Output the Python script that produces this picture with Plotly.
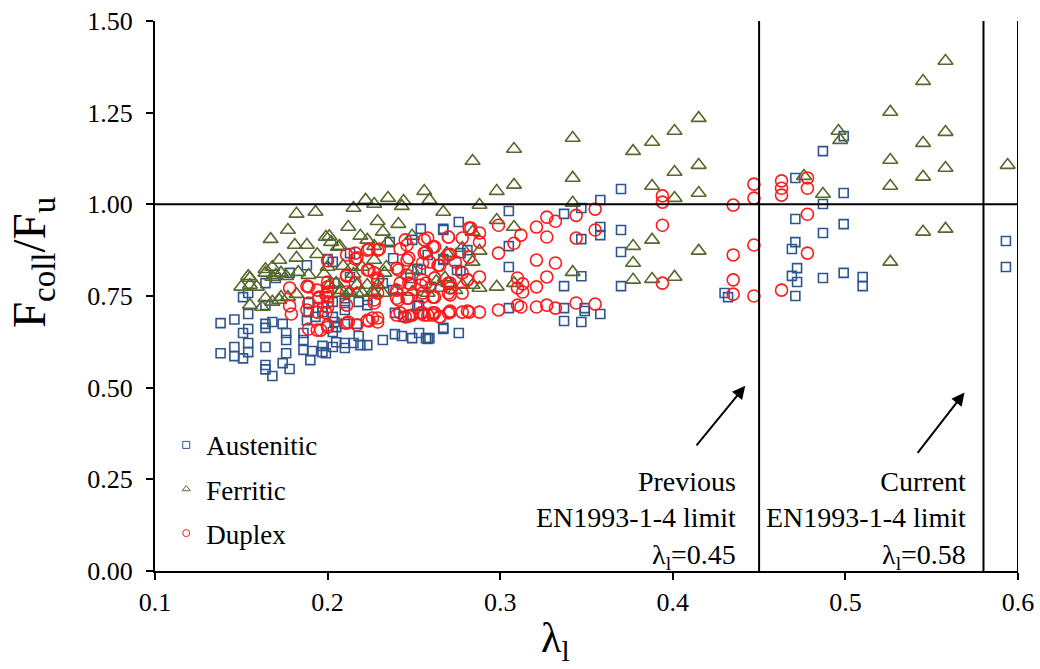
import plotly.graph_objects as go

# ---------------- data ----------------
aus_x = [0.138,0.138,0.146,0.146,0.146,0.151,0.151,0.154,0.154,0.154,0.154,0.151,0.154,0.164,0.164,0.168,0.164,0.164,0.164,0.168,
         0.164,0.164,0.174,0.178,0.176,0.176,0.176,0.174,0.186,0.190,0.186,0.191,0.186,0.189,0.189,0.197,0.199,0.197,0.203,0.205,
         0.210,0.215,0.219,0.223,0.218,0.210,0.205,0.217,0.232,0.239,0.243,0.249,0.253,0.257,0.267,0.239,0.244,0.253,0.253,0.248,
         0.223,0.218,0.210,0.203,0.197,0.193,0.188,0.203,0.197,0.210,0.204,0.203,0.210,0.258,0.276,0.259,
         0.254,0.267,0.236,0.267,0.252,0.252,0.223,0.213,0.200,0.188,0.178,0.170,0.232,0.238,0.213,0.238,0.248,0.260,0.249,0.254,
         0.258,0.203,0.276,0.267,0.277,0.277,0.267,0.281,0.275,0.204,0.210,0.267,
         0.305,0.305,0.305,0.305,0.337,0.347,0.358,0.358,0.358,0.347,0.347,0.337,0.337,0.337,0.347,0.349,0.349,0.358,0.370,0.370,
         0.370,0.370,
         0.499,0.487,0.471,0.499,0.487,0.471,0.499,0.487,0.471,0.469,0.472,0.469,0.472,0.471,0.487,0.499,0.510,0.510,0.430,0.432,
         0.593,0.593]
aus_y = [0.594,0.676,0.686,0.611,0.586,0.580,0.649,0.660,0.622,0.597,0.701,0.747,0.758,0.550,0.562,0.532,0.611,0.663,0.674,0.679,
         0.725,0.785,0.567,0.551,0.594,0.630,0.649,0.674,0.603,0.575,0.630,0.600,0.649,0.706,0.731,0.597,0.594,0.614,0.611,0.624,
         0.622,0.622,0.616,0.616,0.641,0.674,0.665,0.674,0.630,0.646,0.641,0.635,0.649,0.635,0.663,0.704,0.693,0.723,0.701,0.698,
         0.725,0.734,0.731,0.734,0.720,0.693,0.684,0.693,0.706,0.712,0.679,0.652,0.608,0.633,0.649,0.635,
         0.933,0.933,0.897,0.851,0.824,0.725,0.739,0.802,0.851,0.834,0.813,0.799,0.785,0.766,0.867,0.853,0.799,0.775,0.903,0.821,
         0.862,0.843,0.952,0.930,0.867,0.818,0.848,0.875,0.821,0.785,0.744,0.660,
         0.982,0.886,0.829,0.717,0.974,0.990,1.012,0.938,0.916,0.905,0.804,0.777,0.717,0.682,0.679,0.717,0.709,0.701,1.042,0.930,
         0.870,0.777,
         1.186,1.145,1.072,1.031,1.001,0.960,0.946,0.922,0.897,0.878,0.826,0.805,0.788,0.750,0.799,0.813,0.802,0.777,0.758,0.747,
         0.900,0.829]

fer_x = [0.558,0.545,0.526,0.558,0.545,0.526,0.558,0.545,0.526,0.594,0.545,0.558,0.526,0.496,0.497,0.487,0.476,0.388,0.401,0.415,
         0.388,0.401,0.415,0.401,0.415,0.388,0.415,0.388,0.401,
         0.342,0.308,0.284,0.342,0.308,0.298,0.288,0.267,0.342,0.377,0.377,0.377,0.377,0.298,0.308,0.342,0.288,0.284,0.298,0.308,
         0.288,0.278,0.284,0.284,0.278,0.269,
         0.256,0.259,0.235,0.222,0.227,0.244,0.243,0.215,0.229,0.212,0.241,0.232,0.219,0.223,0.207,0.227,0.249,0.235,0.202,0.182,
         0.193,0.177,0.167,0.181,0.188,0.199,0.201,0.172,0.182,0.194,0.168,0.164,0.154,0.206,
         0.150,0.155,0.155,0.159,0.164,0.168,0.173,0.183,0.155,0.162,0.168,0.173,0.182,0.207,0.212,0.217,0.220,0.227,0.232,0.201,
         0.205,0.217,0.223,0.229,0.200,0.209,0.214,0.220,0.227,0.234,0.249,0.170,0.176,0.189,0.198,0.215,0.164,0.172,0.177,0.208,
         0.213,0.226,0.233,0.240,0.249,0.258,0.265,0.274,0.263,0.270,0.268]
fer_y = [1.391,1.336,1.252,1.197,1.167,1.121,1.099,1.075,1.050,1.107,0.925,0.933,0.843,1.200,1.175,1.028,1.077,1.170,1.200,1.235,
         1.050,1.088,1.107,1.017,1.031,0.903,0.873,0.796,0.802,
         1.181,1.151,1.118,1.072,1.053,1.036,0.998,0.979,1.004,1.145,0.886,0.840,0.794,0.957,0.938,0.815,0.873,0.843,0.775,0.785,
         0.772,0.881,0.925,0.780,0.780,0.867,
         1.036,1.012,1.017,1.012,1.001,1.009,0.995,0.990,0.954,0.938,0.946,0.925,0.914,0.903,0.886,0.886,0.914,0.897,0.897,0.974,
         0.979,0.930,0.905,0.889,0.889,0.911,0.913,0.848,0.854,0.864,0.829,0.823,0.804,0.884,
         0.775,0.799,0.780,0.775,0.813,0.802,0.813,0.815,0.725,0.720,0.734,0.747,0.755,0.758,0.758,0.758,0.758,0.758,0.758,0.780,
         0.785,0.780,0.780,0.780,0.829,0.832,0.829,0.829,0.848,0.829,0.821,0.807,0.804,0.807,0.810,0.810,0.744,0.739,0.747,0.766,
         0.761,0.761,0.813,0.766,0.761,0.758,0.772,0.766,0.790,0.785,0.800]

dup_x = [0.394,0.394,0.394,0.394,0.435,0.447,0.447,0.447,0.435,0.435,0.435,0.447,0.463,0.463,0.463,0.478,0.478,0.478,0.478,0.463,
         0.355,0.344,0.332,0.327,0.321,0.355,0.344,0.327,0.312,0.308,0.299,0.299,0.321,0.332,0.327,0.310,0.310,0.321,0.310,0.312,
         0.321,0.327,0.332,0.344,0.355,0.299,0.288,0.282,0.278,0.271,0.265,0.261,0.288,0.288,0.282,0.278,0.270,0.271,0.262,0.282,
         0.264,0.278,0.288,0.281,0.271,0.262,0.262,0.271,0.278,0.313,0.313,
         0.178,0.178,0.179,0.189,0.189,0.189,0.195,0.194,0.196,0.200,0.200,0.200,0.200,0.200,0.200,0.200,0.200,0.211,0.211,0.211,
         0.211,0.211,0.216,0.216,0.216,0.217,0.224,0.224,0.229,0.227,0.229,0.227,0.224,0.229,0.229,0.242,0.245,0.241,0.246,0.246,
         0.240,0.240,0.246,0.248,0.240,0.245,0.247,0.256,0.257,0.255,0.261,0.255,0.254,0.255,0.262,0.265,0.255,0.256,0.261,0.265,
         0.270,0.270,0.274,0.246,0.258,0.256,0.247,0.230,0.223,0.217,0.211,0.223,0.240,0.283,0.259,0.229,0.242,0.247,0.257,0.270,
         0.271,0.281,0.229,0.227,0.241,0.247,0.255,0.261,0.270,0.212,0.223,0.226,0.242,0.249,0.254,0.258,0.262,0.270,0.271,0.281,
         0.188,0.188,0.194,0.195,0.194,0.199,0.199,0.200]
dup_y = [1.023,1.006,0.943,0.785,0.998,1.055,1.017,0.889,0.862,0.794,0.755,0.750,1.064,1.044,1.025,1.072,1.044,0.973,0.867,0.766,
         0.987,0.970,0.954,0.965,0.938,0.930,0.908,0.911,0.916,0.894,0.943,0.867,0.848,0.840,0.802,0.799,0.772,0.775,0.725,0.720,
         0.720,0.725,0.717,0.731,0.728,0.712,0.706,0.706,0.706,0.706,0.693,0.698,0.897,0.922,0.935,0.908,0.911,0.864,0.884,0.856,
         0.834,0.813,0.802,0.794,0.785,0.799,0.747,0.753,0.758,0.783,0.761,
         0.772,0.723,0.701,0.775,0.731,0.660,0.744,0.706,0.657,0.846,0.788,0.775,0.761,0.747,0.734,0.720,0.671,0.862,0.807,0.761,
         0.725,0.676,0.867,0.851,0.785,0.671,0.878,0.821,0.875,0.813,0.794,0.739,0.682,0.690,0.679,0.878,0.903,0.821,0.848,0.807,
         0.766,0.744,0.744,0.782,0.698,0.693,0.695,0.903,0.870,0.840,0.884,0.794,0.780,0.747,0.799,0.834,0.704,0.698,0.704,0.693,
         0.862,0.911,0.843,0.889,0.908,0.867,0.854,0.878,0.875,0.854,0.804,0.821,0.826,0.935,0.843,0.799,0.785,0.785,0.785,0.785,
         0.772,0.794,0.758,0.731,0.739,0.744,0.758,0.747,0.758,0.679,0.684,0.690,0.704,0.698,0.704,0.698,0.704,0.704,0.709,0.709,
         0.777,0.712,0.766,0.747,0.657,0.753,0.704,0.665]

series_names = ["Austenitic", "Ferritic", "Duplex"]
limit_prev = 0.45
limit_curr = 0.58
x_ticks = [0.1, 0.2, 0.3, 0.4, 0.5, 0.6]
y_ticks = [0.00, 0.25, 0.50, 0.75, 1.00, 1.25, 1.50]

# ---------------- styles ----------------
AUS_C = "#2f5590"
FER_C = "#56682c"
DUP_C = "#ff1a1a"
FONT = "Liberation Serif"

fig = go.Figure()
styles = [
    (aus_x, aus_y, series_names[0], "square-open", AUS_C, 9),
    (fer_x, fer_y, series_names[1], "triangle-up-open", FER_C, 13),
    (dup_x, dup_y, series_names[2], "circle-open", DUP_C, 12),
]
for xs, ys, nm, sym, col, sz in styles:
    fig.add_trace(go.Scatter(x=xs, y=ys, mode="markers", name=nm, showlegend=False,
                             marker=dict(symbol=sym, size=sz, color=col,
                                         line=dict(color=col, width=1.6))))
# legend entries (small symbols as in the reference)
for i, (xs, ys, nm, sym, col, sz) in enumerate(styles):
    fig.add_trace(go.Scatter(x=[None], y=[None], mode="markers", name=nm,
                             legendgroup=str(i),
                             marker=dict(symbol=sym, size=7, color=col,
                                         line=dict(color=col, width=1))))

# reference lines
fig.add_shape(type="line", xref="x", yref="y", x0=0.1, x1=0.6, y0=1.0, y1=1.0,
              line=dict(color="black", width=2))
for xv in [limit_prev, limit_curr, 0.6]:
    fig.add_shape(type="line", xref="x", yref="y", x0=xv, x1=xv, y0=0, y1=1.5,
                  line=dict(color="black", width=2))

# annotations
fig.add_annotation(x=limit_prev - 0.012, y=0.0, xref="x", yref="y", xanchor="right", yanchor="bottom",
                   yshift=-5,
                   text="Previous<br>EN1993-1-4 limit<br>λ<sub>l</sub>=0.45", showarrow=False,
                   align="right", font=dict(family=FONT, size=28, color="black"))
fig.add_annotation(x=limit_curr - 0.009, y=0.0, xref="x", yref="y", xanchor="right", yanchor="bottom",
                   yshift=-5,
                   text="Current<br>EN1993-1-4 limit<br>λ<sub>l</sub>=0.58", showarrow=False,
                   align="right", font=dict(family=FONT, size=28, color="black"))
fig.add_annotation(x=0.442, y=0.505, xref="x", yref="y", ax=-50, ay=61, text="",
                   showarrow=True, arrowhead=2, arrowsize=1.3, arrowwidth=2, arrowcolor="black")
fig.add_annotation(x=0.569, y=0.487, xref="x", yref="y", ax=-48, ay=62, text="",
                   showarrow=True, arrowhead=2, arrowsize=1.3, arrowwidth=2, arrowcolor="black")

# axis titles
fig.add_annotation(x=-0.1425, y=0.56, xref="paper", yref="paper", xanchor="center", yanchor="middle",
                   text="F<sub>coll</sub>/F<sub>u</sub>", textangle=-90, showarrow=False,
                   font=dict(family=FONT, size=47, color="black"))
fig.add_annotation(x=0.4635, y=-0.128, xref="paper", yref="paper", xanchor="center", yanchor="middle",
                   text="λ<sub>l</sub>", showarrow=False,
                   font=dict(family=FONT, size=42, color="black"))

fig.update_layout(
    width=1040, height=669,
    margin=dict(l=155, r=22, t=21, b=98, autoexpand=False),
    paper_bgcolor="white", plot_bgcolor="white",
    font=dict(family=FONT, color="black", size=26),
    legend=dict(x=0.013, y=0.273, xanchor="left", yanchor="top",
                bgcolor="rgba(0,0,0,0)", font=dict(family=FONT, size=27),
                tracegroupgap=6, itemwidth=30),
    xaxis=dict(range=[0.1, 0.6], tickvals=x_ticks, ticktext=[f"{v:.1f}" for v in x_ticks],
               showgrid=False, zeroline=False, showline=True, linecolor="black", linewidth=2,
               ticks="outside", ticklen=7, tickwidth=2, tickcolor="black", ticklabeloverflow="allow",
               tickfont=dict(family=FONT, size=26)),
    yaxis=dict(range=[0, 1.5], tickvals=y_ticks, ticktext=[f"{v:.2f}" for v in y_ticks],
               showgrid=False, zeroline=False, showline=True, linecolor="black", linewidth=2,
               ticks="outside", ticklen=7, tickwidth=2, tickcolor="black", ticklabelstandoff=8,
               ticklabeloverflow="allow", tickfont=dict(family=FONT, size=26)),
)

fig.write_html("out.html", config={"displayModeBar": False},
               post_script="document.body.style.margin='0';document.body.style.overflow='hidden';")
